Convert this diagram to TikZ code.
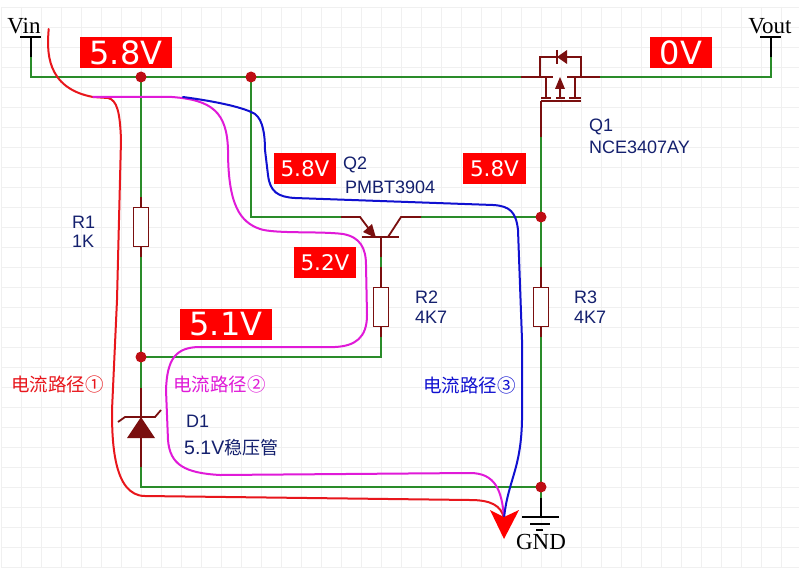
\documentclass[tikz,border=0pt]{standalone}
\usepackage{fontspec}
\setmainfont{Liberation Sans}
\newfontfamily\serifnm{Liberation Serif}
\newfontfamily\dejavu{DejaVu Sans}
\newfontfamily\cjk{Noto Sans CJK SC}
\definecolor{wiregreen}{HTML}{2A8C2A}
\definecolor{partred}{HTML}{7A0F0F}
\definecolor{dotred}{HTML}{BE0E14}
\definecolor{labelnavy}{HTML}{14206E}
\definecolor{pathmag}{HTML}{E01AD8}
\definecolor{pathblue}{HTML}{1010D0}
\definecolor{pathred}{HTML}{E8161C}
\tikzset{
  grn/.style={draw=wiregreen,line width=1.8pt},
  prt/.style={draw=partred,line width=1.8pt},
  blk/.style={draw=black,line width=1.8pt},
  junction/.style={circle,fill=dotred,minimum size=11pt,inner sep=0pt},
  resistor/.style={draw=partred,line width=1.8pt,fill=white,minimum width=15pt,minimum height=39pt,inner sep=0pt},
  volt/.style={fill=red,text=white,inner sep=0pt,font=\dejavu\fontsize{21.5}{23}\selectfont},
  voltbig/.style={fill=red,text=white,inner sep=0pt,font=\dejavu\fontsize{32}{34}\selectfont},
  lab/.style={text=labelnavy,anchor=west,inner sep=0pt,font=\fontsize{18}{20}\selectfont},
  netlab/.style={text=black,inner sep=0pt,font=\serifnm\fontsize{23}{25}\selectfont},
  cjklab/.style={anchor=west,inner sep=0pt,font=\cjk\fontsize{18.5}{20}\selectfont},
  pathline/.style={line width=2pt,line cap=round,line join=round}
}
\begin{document}
\begin{tikzpicture}[x=1pt,y=-1pt]
\useasboundingbox (0,0) rectangle (799,575);
\fill[white] (0,0) rectangle (799,575);
\foreach \gx in {1,21,...,781}{\draw[black!6,line width=0.6pt] (\gx,7) -- (\gx,567);}
\foreach \gy in {7,27,...,567}{\draw[black!6,line width=0.6pt] (1,\gy) -- (799,\gy);}

% coordinates
\coordinate (vinbar) at (31,37);
\coordinate (vinend) at (31,57);
\coordinate (vincorner) at (31,77);
\coordinate (voutbar) at (771,37);
\coordinate (voutend) at (771,57);
\coordinate (voutcorner) at (771,77);
\coordinate (msrc) at (521,77);
\coordinate (mdrn) at (600,77);
\coordinate (mgate) at (541,101);
\coordinate (mgatelow) at (541,137);
\coordinate (q2e) at (341,217);
\coordinate (q2c) at (421,217);
\coordinate (q2b) at (381,237);
\coordinate (q2bg) at (381,257);
\coordinate (r2t) at (381,267);
\coordinate (r2b) at (381,337);
\coordinate (r2corner) at (381,357);
\coordinate (q2w) at (251,217);
\coordinate (r1t) at (141,197);
\coordinate (r1b) at (141,257);
\coordinate (r3t) at (541,267);
\coordinate (r3b) at (541,337);
\coordinate (d1top) at (141,388);
\coordinate (d1bot) at (141,467);
\coordinate (d1corner) at (141,487);
\coordinate (gndtop) at (541,498);
\coordinate (gndbar) at (541,517);

% green wires
\draw[grn] (vinend) -- (vincorner) -- (msrc);
\draw[grn] (mdrn) -- (voutcorner) -- (voutend);
\draw[grn] (141,77) -- (r1t);
\draw[grn] (r1b) -- (141,357) -- (d1top);
\draw[grn] (251,77) -- (q2w) -- (q2e);
\draw[grn] (q2c) -- (541,217);
\draw[grn] (mgatelow) -- (541,217) -- (r3t);
\draw[grn] (r3b) -- (541,487);
\draw[grn] (d1bot) -- (d1corner) -- (541,487);
\draw[grn] (141,357) -- (r2corner) -- (r2b);
\draw[grn] (q2bg) -- (r2t);
\draw[grn] (541,487) -- (gndtop);

% junctions
\node[junction] (j1) at (141,77) {};
\node[junction] (j2) at (251,77) {};
\node[junction] (j3) at (541,217) {};
\node[junction] (j4) at (141,357) {};
\node[junction] (j5) at (541,487) {};

% resistors
\node[resistor] (R1) at (141,227) {};
\node[resistor] (R2) at (381,307) {};
\node[resistor] (R3) at (541,307) {};

% resistor leads
\draw[prt] (r1t) -- (R1.north);
\draw[prt] (R1.south) -- (r1b);
\draw[prt] (r2t) -- (R2.north);
\draw[prt] (R2.south) -- (r2b);
\draw[prt] (r3t) -- (R3.north);
\draw[prt] (R3.south) -- (r3b);

% net flags
\draw[blk] (vinbar) -- (vinend);
\draw[blk] (20,37) -- (41,37);
\draw[blk] (voutbar) -- (voutend);
\draw[blk] (760,37) -- (781,37);
\node[netlab] (vin) at (24,26) {Vin};
\node[netlab] (vout) at (770,26) {Vout};

% MOSFET
\draw[prt] (msrc) -- (553,77);
\draw[prt] (567,77) -- (mdrn);
\draw[prt] (540,77) -- (540,57) -- (581,57) -- (581,77);
\draw[prt] (546,77) -- (546,98);
\draw[prt] (575,77) -- (575,98);
\draw[prt] (560,85) -- (560,98);
\draw[prt] (541,98) -- (551,98);
\draw[prt] (556,98) -- (565,98);
\draw[prt] (569,98) -- (581,98);
\draw[prt] (541,101) -- (581,101);
\draw[prt] (mgate) -- (mgatelow);
\fill[partred] (560,77) -- (565,89) -- (555,89) -- cycle;
\fill[partred] (557,57) -- (567,50) -- (567,64) -- cycle;
\draw[prt] (557,50) -- (557,64);

% Q2
\draw[prt] (q2e) -- (360,217) -- (375,237);
\draw[prt] (q2c) -- (401,217) -- (388,237);
\draw[prt] (362,237) -- (399,237);
\draw[prt] (q2b) -- (q2bg);
\fill[partred] (376,238) -- (363,232) -- (372,224) -- cycle;

% D1
\draw[prt] (d1top) -- (d1bot);
\fill[partred] (141,417) -- (155,438) -- (127,438) -- cycle;
\draw[prt] (118,422) -- (125,417) -- (155,417) -- (161,410);

% ground
\draw[blk] (gndtop) -- (gndbar);
\draw[blk] (522,517) -- (559,517);
\draw[blk] (530,524) -- (550,524);
\draw[blk] (536,530) -- (543,530);
\node[netlab] (gnd) at (541,542) {GND};

% voltage labels
\node[voltbig,minimum width=92pt,minimum height=31pt] (v1) at (126,52.5) {5.8V};
\node[voltbig,minimum width=62pt,minimum height=31pt] (v2) at (681,52.5) {0V};
\node[volt,minimum width=62pt,minimum height=31pt] (v3) at (305,168.5) {5.8V};
\node[volt,minimum width=63pt,minimum height=31pt] (v4) at (494.5,168.5) {5.8V};
\node[volt,minimum width=62pt,minimum height=31pt] (v5) at (325,262.5) {5.2V};
\node[voltbig,minimum width=92pt,minimum height=31pt] (v6) at (226,324.5) {5.1V};

% labels
\node[lab] (lq1a) at (589,127) {Q1};
\node[lab] (lq1b) at (589,147) {NCE3407AY};
\node[lab] (lq2a) at (343,165) {Q2};
\node[lab] (lq2b) at (345,187) {PMBT3904};
\node[lab] (lr1a) at (72,222) {R1};
\node[lab] (lr1b) at (72,241) {1K};
\node[lab] (lr2a) at (415,297) {R2};
\node[lab] (lr2b) at (415,317) {4K7};
\node[lab] (lr3a) at (574,297) {R3};
\node[lab] (lr3b) at (574,317) {4K7};
\node[lab] (ld1a) at (186,421) {D1};
\node[lab] (ld1b) at (184,448) {\fontsize{19.5}{20}\selectfont 5.1V{\cjk\fontsize{18}{20}\selectfont 稳压管}};
\node[cjklab,text=pathred] (p1) at (11,384) {电流路径①};
\node[cjklab,text=pathmag] (p2) at (173,384) {电流路径②};
\node[cjklab,text=pathblue] (p3) at (423,385) {电流路径③};

% current paths
\coordinate (arrowtip) at (504,539);
\coordinate (arrowneck) at (504,518);
\draw[pathline,draw=pathred] (48.7,29) .. controls (47,50) and (45,88) .. (93,97)
  -- (108,98) .. controls (117,100) and (120,112) .. (121,140)
  -- (117,300) -- (112,410)
  .. controls (112,440) and (113,496) .. (145,496)
  -- (470,500) .. controls (490,500) and (501,505) .. (arrowneck);
\draw[pathline,draw=pathmag] (93,97) -- (172,97) .. controls (212,100) and (227,112) .. (228,150)
  .. controls (228,205) and (240,222) .. (260,229)
  .. controls (275,234) and (320,231) .. (343,234)
  .. controls (360,237) and (366,248) .. (366,265)
  -- (367,315) .. controls (367,338) and (355,346) .. (335,347)
  -- (200,347) .. controls (175,347) and (167,360) .. (166,390)
  -- (168,440) .. controls (170,465) and (185,473) .. (220,475)
  -- (470,473) .. controls (495,473) and (502,490) .. (arrowneck);
\draw[pathline,draw=pathblue] (183,97) .. controls (220,102) and (245,108) .. (255,114)
  .. controls (263,120) and (265,135) .. (265,150)
  -- (268,175) .. controls (270,192) and (278,197) .. (295,198)
  -- (493,205) .. controls (510,206) and (516,212) .. (518,230)
  -- (522,340) -- (522,420) .. controls (521,470) and (508,480) .. (arrowneck);
\fill[red] (arrowtip) -- (490,510) -- (504,517) -- (519,510) -- cycle;
\end{tikzpicture}
\end{document}
